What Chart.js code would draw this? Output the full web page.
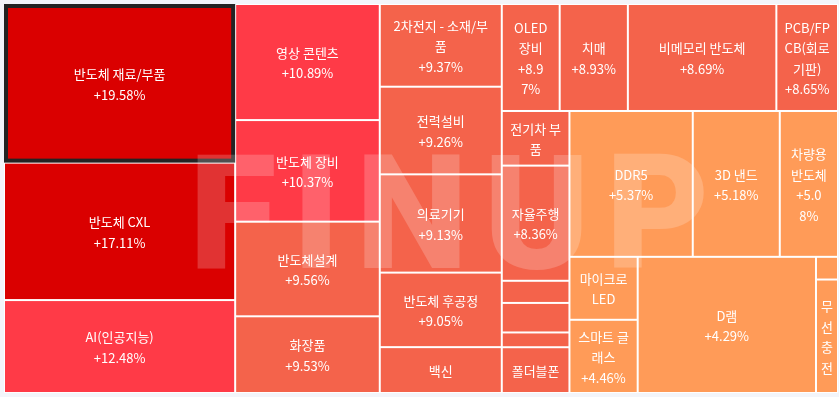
<!DOCTYPE html>
<html>
<head>
<meta charset="utf-8">
<script src="https://cdn.jsdelivr.net/npm/chart.js@4.4.0/dist/chart.umd.min.js"></script>
<style>
    html, body { margin: 0; padding: 0; background: #f3f5fa; }
    #wrap { width: 839px; height: 397px; position: relative; }
</style>
</head>
<body>
<div id="wrap"><canvas id="myChart"></canvas></div>
<script>
// themes, in the order the map lays them out (sorted by change, high to low)
const names = [
    '반도체 재료/부품', '반도체 CXL', 'AI(인공지능)',
    '영상 콘텐츠', '반도체 장비', '반도체설계', '화장품',
    '2차전지 - 소재/부품', '전력설비', '의료기기', '반도체 후공정', '백신',
    'OLED 장비', '치매', '비메모리 반도체', 'PCB/FPCB(회로기판)',
    '전기차 부품', '자율주행', '', '', '', '폴더블폰',
    'DDR5', '3D 낸드', '차량용 반도체',
    '마이크로 LED', '스마트 글래스', 'D램', '', '무선충전'
];
// daily change in %
const changes = [
    19.58, 17.11, 12.48,
    10.89, 10.37, 9.56, 9.53,
    9.37, 9.26, 9.13, 9.05, 9.01,
    8.97, 8.93, 8.69, 8.65,
    8.52, 8.36, 8.2, 7.9, 7.6, 7.1,
    5.37, 5.18, 5.08,
    4.8, 4.46, 4.29, 4.2, 4.1
];
// size of each tile (relative weight)
const weights = [
    367, 318, 215,
    168, 147, 137, 111,
    101, 107, 120, 91, 56,
    62, 73, 159, 66,
    37, 78, 15, 20, 10, 31,
    180, 127, 85,
    43, 50, 243, 5, 25
];
const selectedName = '반도체 재료/부품';

// colour bands by change
const bandMins = [15, 10, 6, -Infinity];
const bandColors = ['#da0000', '#ff3a47', '#f4634b', '#ff9b58'];

const PHI = (1 + Math.sqrt(5)) / 2;
const FONT = '13px "Noto Sans CJK KR", "Noto Sans", sans-serif';
const LINE_H = 20.5;

function colorFor(v) {
    for (let i = 0; i < bandMins.length; i++) {
        if (v >= bandMins[i]) return bandColors[i];
    }
    return bandColors[bandColors.length - 1];
}

// squarified layout, input order kept (same as d3 treemapSquarify)
function squarify(values, x0, y0, x1, y1) {
    const rects = new Array(values.length);
    const n = values.length;
    let value = values.reduce((a, b) => a + b, 0);
    let i0 = 0, i1 = 0;
    while (i0 < n) {
        const dx = x1 - x0, dy = y1 - y0;
        let sumValue = values[i1++];
        let minValue = sumValue, maxValue = sumValue;
        const alpha = Math.max(dy / dx, dx / dy) / (value * PHI);
        let beta = sumValue * sumValue * alpha;
        let minRatio = Math.max(maxValue / beta, beta / minValue);
        for (; i1 < n; ++i1) {
            const v = values[i1];
            sumValue += v;
            if (v < minValue) minValue = v;
            if (v > maxValue) maxValue = v;
            beta = sumValue * sumValue * alpha;
            const newRatio = Math.max(maxValue / beta, beta / minValue);
            if (newRatio > minRatio) { sumValue -= v; break; }
            minRatio = newRatio;
        }
        if (dx < dy) {
            const ny = i1 < n ? y0 + dy * sumValue / value : y1;
            let x = x0;
            for (let i = i0; i < i1; i++) {
                const nx = x + (x1 - x0) * values[i] / sumValue;
                rects[i] = { x0: x, y0: y0, x1: nx, y1: ny };
                x = nx;
            }
            y0 = ny;
        } else {
            const nx = i1 < n ? x0 + dx * sumValue / value : x1;
            let y = y0;
            for (let i = i0; i < i1; i++) {
                const ny = y + (y1 - y0) * values[i] / sumValue;
                rects[i] = { x0: x0, y0: y, x1: nx, y1: ny };
                y = ny;
            }
            x0 = nx;
        }
        value -= sumValue;
        i0 = i1;
    }
    return rects;
}

// break anywhere, but keep '%' with the digit before it and '+' with the digit after
function wrapLabel(ctx, text, maxWidth) {
    const units = [];
    for (const ch of text) {
        const last = units[units.length - 1];
        if (last !== undefined && (ch === '%' || last.endsWith('+'))) {
            units[units.length - 1] = last + ch;
        } else {
            units.push(ch);
        }
    }
    const lines = [];
    let line = '';
    units.forEach(u => {
        const test = line + u;
        if (line.trim() !== '' && ctx.measureText(test.trimEnd()).width > maxWidth) {
            lines.push(line.trimEnd());
            line = u.trimStart();
        } else {
            line = test;
        }
    });
    if (line.trim() !== '') lines.push(line.trimEnd());
    return lines;
}

const treemapPlugin = {
    id: 'treemap',
    afterDraw(chart) {
        const ctx = chart.ctx;
        const xs = chart.scales.x, ys = chart.scales.y;
        const left = xs.getPixelForValue(0), right = xs.getPixelForValue(100);
        const top = ys.getPixelForValue(0), bottom = ys.getPixelForValue(100);
        const rects = squarify(weights, left, top, right, bottom);

        ctx.save();
        ctx.fillStyle = '#ffffff';
        ctx.fillRect(left, top, right - left, bottom - top);

        rects.forEach((r, i) => {
            ctx.fillStyle = colorFor(changes[i]);
            ctx.fillRect(r.x0 + 1, r.y0 + 1, r.x1 - r.x0 - 2, r.y1 - r.y0 - 2);
        });

        rects.forEach((r, i) => {
            if (names[i] !== selectedName) return;
            ctx.strokeStyle = '#232323';
            ctx.lineWidth = 4;
            ctx.strokeRect(r.x0 + 2, r.y0 + 2, r.x1 - r.x0 - 4, r.y1 - r.y0 - 4);
        });

        ctx.font = FONT;
        ctx.fillStyle = '#ffffff';
        ctx.textAlign = 'center';
        ctx.textBaseline = 'middle';
        rects.forEach((r, i) => {
            if (!names[i]) return;
            const w = r.x1 - r.x0 - 2, h = r.y1 - r.y0 - 2;
            const avail = w - 13.8;
            const nameLines = wrapLabel(ctx, names[i], avail);
            const valueLines = wrapLabel(ctx, '+' + changes[i].toFixed(2) + '%', avail);
            let lines = nameLines.concat(valueLines);
            if (lines.length * LINE_H + 6 > h) lines = nameLines;
            if (lines.length * LINE_H + 6 > h) return;
            const cx = (r.x0 + r.x1) / 2;
            const cy = (r.y0 + r.y1) / 2 + 1;
            const startY = cy - (lines.length - 1) * LINE_H / 2;
            lines.forEach((t, k) => ctx.fillText(t, cx, startY + k * LINE_H));
        });

        // watermark
        ctx.font = '900 160px Roboto, "Liberation Sans", sans-serif';
        ctx.letterSpacing = '15.5px';
        ctx.fillStyle = 'rgba(255,255,255,0.2)';
        ctx.textAlign = 'center';
        ctx.textBaseline = 'alphabetic';
        ctx.fillText('FINUP', (left + right) / 2 + 36, top + (bottom - top) * 0.678);
        ctx.letterSpacing = '0px';
        ctx.restore();
    }
};

document.addEventListener('DOMContentLoaded', () => {
    new Chart(document.getElementById('myChart'), {
        type: 'scatter',
        data: { datasets: [{ label: '테마 등락률', data: [] }] },
        options: {
            responsive: true,
            maintainAspectRatio: false,
            animation: false,
            events: [],
            layout: { padding: { left: 4, top: 4, right: 1, bottom: 4 } },
            plugins: {
                legend: { display: false },
                tooltip: { enabled: false }
            },
            scales: {
                x: { type: 'linear', display: false, min: 0, max: 100 },
                y: { type: 'linear', display: false, min: 0, max: 100, reverse: true }
            }
        },
        plugins: [treemapPlugin]
    });
});
</script>
</body>
</html>
